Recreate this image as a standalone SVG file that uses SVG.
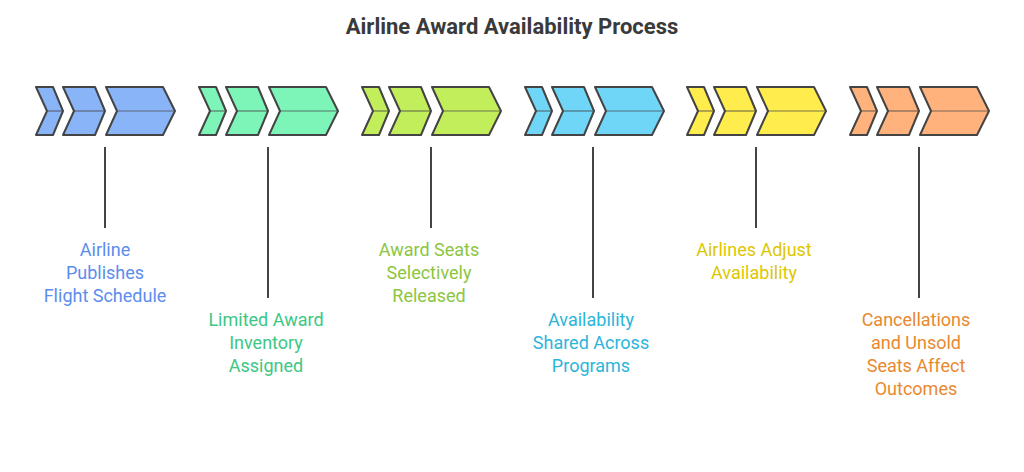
<svg xmlns="http://www.w3.org/2000/svg" width="1024" height="472" viewBox="0 0 1024 472">
<defs>
<style>
.ch{stroke:#444;stroke-width:2;stroke-linejoin:round}
.mid{stroke:#444;stroke-width:1.2;opacity:.7}
.ld{stroke:#444;stroke-width:2}
text{font-family:"Roboto","Liberation Sans",sans-serif;font-size:18px;text-anchor:middle}
.t{font-size:22px;font-weight:bold;fill:#3a3a3a}
</style>
<g id="chev">
<path class="ch" d="M1,87H18L28,111L18,135H1L12,111Z"/>
<line class="mid" x1="12" y1="111" x2="28" y2="111"/>
<path class="ch" d="M28,87H60L70,111L60,135H28L39,111Z"/>
<line class="mid" x1="39" y1="111" x2="70" y2="111"/>
<path class="ch" d="M71,87H128L140,111L128,135H71L82,111Z"/>
<line class="mid" x1="82" y1="111" x2="140" y2="111"/>
</g>
</defs>
<rect width="1024" height="472" fill="#fff"/>
<text class="t" x="512" y="34">Airline Award Availability Process</text>
<g id="n1" fill="#8AB4F8"><use href="#chev" x="35"/></g>
<g id="n2" fill="#7DF5B8"><use href="#chev" x="198"/></g>
<g id="n3" fill="#C2EE5C"><use href="#chev" x="361"/></g>
<g id="n4" fill="#6FD6F8"><use href="#chev" x="524"/></g>
<g id="n5" fill="#FFEC4D"><use href="#chev" x="686"/></g>
<g id="n6" fill="#FFB27C"><use href="#chev" x="849"/></g>
<g id="connectors">
<line class="ld" x1="105" y1="147" x2="105" y2="228"/>
<line class="ld" x1="268" y1="147" x2="268" y2="298"/>
<line class="ld" x1="431" y1="147" x2="431" y2="228"/>
<line class="ld" x1="593" y1="147" x2="593" y2="298"/>
<line class="ld" x1="756" y1="147" x2="756" y2="228"/>
<line class="ld" x1="919" y1="147" x2="919" y2="298"/>
</g>
<g id="labels">
<text fill="#5B8DEF" x="105" y="256">Airline<tspan x="105" dy="23">Publishes</tspan><tspan x="105" dy="23">Flight Schedule</tspan></text>
<text fill="#3CC784" x="266" y="326">Limited Award<tspan x="266" dy="23">Inventory</tspan><tspan x="266" dy="23">Assigned</tspan></text>
<text fill="#8CC63F" x="429" y="256">Award Seats<tspan x="429" dy="23">Selectively</tspan><tspan x="429" dy="23">Released</tspan></text>
<text fill="#2BB5DA" x="591" y="326">Availability<tspan x="591" dy="23">Shared Across</tspan><tspan x="591" dy="23">Programs</tspan></text>
<text fill="#DDC700" x="754" y="256">Airlines Adjust<tspan x="754" dy="23">Availability</tspan></text>
<text fill="#E8892F" x="916" y="326">Cancellations<tspan x="916" dy="23">and Unsold</tspan><tspan x="916" dy="23">Seats Affect</tspan><tspan x="916" dy="23">Outcomes</tspan></text>
</g>
</svg>
